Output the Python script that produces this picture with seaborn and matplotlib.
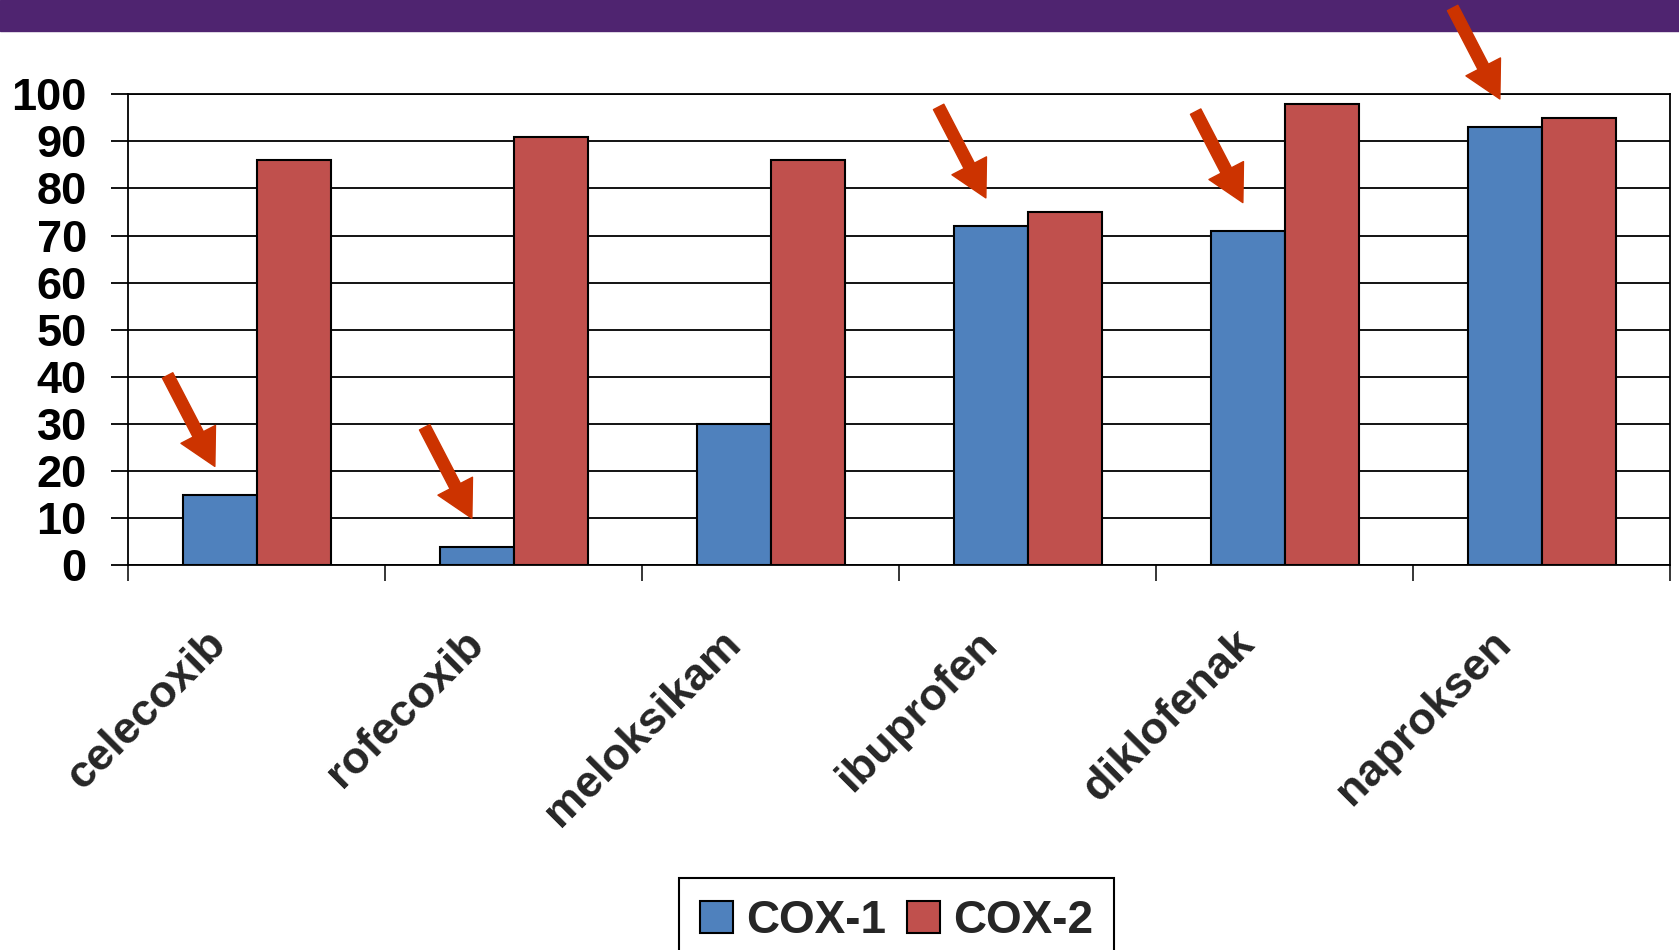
import matplotlib
matplotlib.use("Agg")
import matplotlib.pyplot as plt
from matplotlib.patches import Patch, Rectangle
from matplotlib.transforms import ScaledTranslation
import pandas as pd
import seaborn as sns

# Data
drugs = ["celecoxib", "rofecoxib", "meloksikam", "ibuprofen", "diklofenak", "naproksen"]
cox1 = [15, 4, 30, 72, 71, 93]
cox2 = [86, 91, 86, 75, 98, 95]
series = ["COX-1", "COX-2"]
yticks = [0, 10, 20, 30, 40, 50, 60, 70, 80, 90, 100]
# drugs whose COX-1 bar gets a pointer arrow
flagged = ["celecoxib", "rofecoxib", "ibuprofen", "diklofenak", "naproksen"]

BLUE = "#4F81BD"
RED = "#C0504D"
ARROW = "#CC3300"
BAND = "#4F2470"

sns.set_style("white")
plt.rcParams["font.family"] = ["Liberation Sans", "DejaVu Sans"]
plt.rcParams["font.weight"] = "bold"

df = pd.DataFrame({
    "drug": drugs * 2,
    "value": cox1 + cox2,
    "enzyme": [series[0]] * len(drugs) + [series[1]] * len(drugs),
})

fig = plt.figure(figsize=(16.79, 9.5), dpi=100)
ax = fig.add_axes([0.0765, 0.4049, 0.9184, 0.4959])

bar_width = 0.575
sns.barplot(data=df, x="drug", y="value", hue="enzyme", order=drugs,
            hue_order=series, palette=[BLUE, RED], width=bar_width,
            edgecolor="black", linewidth=1.5, saturation=1, ax=ax,
            legend=False, zorder=3)

ax.set_xlim(-0.5, len(drugs) - 0.5)
ax.set_ylim(0, 100)
ax.set_xlabel("")
ax.set_ylabel("")

# y axis: black gridlines with outward ticks
ax.set_yticks(yticks)
ax.set_yticklabels([str(v) for v in yticks], fontsize=32.5, fontweight="bold")
ax.yaxis.grid(True, color="black", linewidth=1.3)
ax.set_axisbelow(True)
ax.tick_params(axis="y", direction="out", length=12, width=1.3, pad=18,
               left=True, colors="black")

# x axis: ticks between categories, labels at category centres
ax.set_xticks([i - 0.5 for i in range(len(drugs) + 1)])
ax.set_xticklabels([])
ax.set_xticks(range(len(drugs)), minor=True)
ax.set_xticklabels(drugs, minor=True, rotation=45, ha="right", va="center",
                   rotation_mode="anchor", fontsize=32.5, fontweight="bold")
ax.tick_params(axis="x", which="major", direction="out", length=11.5,
               width=1.3, bottom=True)
ax.tick_params(axis="x", which="minor", length=0, pad=52)
shift = ScaledTranslation(-37 / 100, 0, fig.dpi_scale_trans)
for lab in ax.get_xticklabels(minor=True):
    lab.set_transform(lab.get_transform() + shift)

for sp in ax.spines.values():
    sp.set_visible(True)
    sp.set_color("black")
    sp.set_linewidth(1.3)

# Pointer arrows above selected COX-1 bars
for i, d in enumerate(drugs):
    if d not in flagged:
        continue
    x_bar = i - bar_width / 4
    ax.annotate("", xy=(x_bar - 0.02, cox1[i] + 6),
                xytext=(-34, 65.5), textcoords="offset points",
                arrowprops=dict(arrowstyle="simple,head_length=1.3,head_width=1.4,tail_width=0.42",
                                mutation_scale=20, color=ARROW,
                                shrinkA=0, shrinkB=0),
                annotation_clip=False, zorder=6)

# Header band
fig.patches.append(Rectangle((0, 1 - 31 / 950), 1, 31 / 950,
                             transform=fig.transFigure, color=BAND,
                             zorder=-1))

handles = [Patch(facecolor=BLUE, edgecolor="black", linewidth=1.5),
           Patch(facecolor=RED, edgecolor="black", linewidth=1.5)]
leg = fig.legend(handles, series, loc="upper center",
                 bbox_to_anchor=(0.534, 1 - 878 / 950), ncol=2,
                 prop={"size": 33, "weight": "bold"}, frameon=True,
                 fancybox=False, shadow=False, framealpha=1,
                 handlelength=0.72, handleheight=0.7, handletextpad=0.28,
                 columnspacing=0.47, borderpad=0.45, borderaxespad=0)
leg.get_frame().set_edgecolor("black")
leg.get_frame().set_linewidth(1.5)

fig.savefig("out.png", dpi=100)
